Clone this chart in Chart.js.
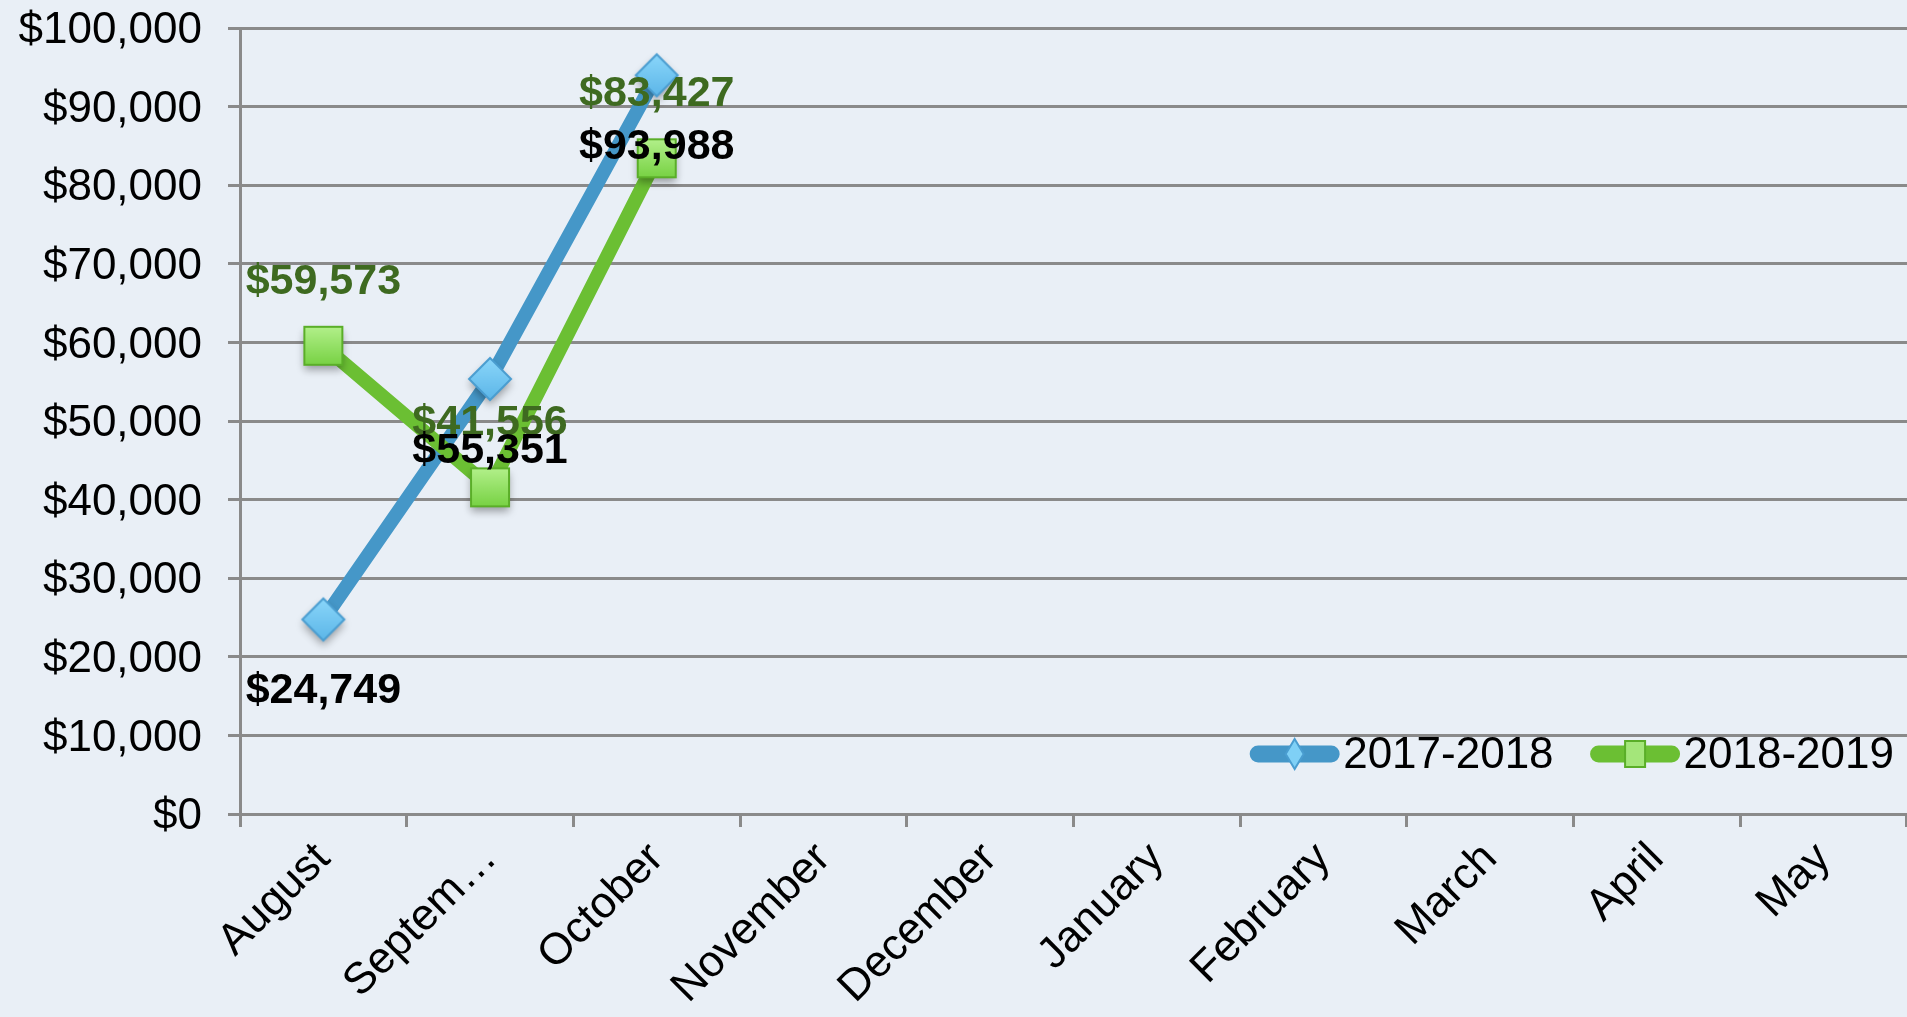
<!DOCTYPE html>
<html>
<head>
<meta charset="utf-8">
<title>Sales by month</title>
<script src="https://cdn.jsdelivr.net/npm/chart.js@4.4.1/dist/chart.umd.min.js"></script>
<style>
    html, body {
        margin: 0;
        padding: 0;
        overflow: hidden;
        background: #e9eff6;
    }
    .wrap {
        width: 1907px;
        height: 1017px;
    }
    canvas {
        display: block;
    }
</style>
</head>
<body>
<div class="wrap"><canvas id="salesChart"></canvas></div>
<script>
// data
const months = ["August", "Septem\u2026", "October", "November", "December", "January", "February", "March", "April", "May"];
const year1Label = "2017-2018";
const year1Values = [24749, 55351, 93988, null, null, null, null, null, null, null];
const year2Label = "2018-2019";
const year2Values = [59573, 41556, 83427, null, null, null, null, null, null, null];
const yMin = 0;
const yMax = 100000;
const yStep = 10000;

const gridColor = '#8a8a8a';
const fontName = '"Liberation Sans", Arial, sans-serif';

function money(v) {
    return '$' + Number(v).toLocaleString('en-US');
}

// marker images with a soft shadow (diamond or square)
function makeMarker(shape, half, top, bottom, edge) {
    const pad = 14;
    const size = half * 2 + pad * 2;
    const c = document.createElement('canvas');
    c.width = size;
    c.height = size;
    const g = c.getContext('2d');
    const m = size / 2;
    g.beginPath();
    if (shape === 'diamond') {
        g.moveTo(m, m - half);
        g.lineTo(m + half, m);
        g.lineTo(m, m + half);
        g.lineTo(m - half, m);
        g.closePath();
    } else {
        g.rect(m - half, m - half, half * 2, half * 2);
    }
    const grad = g.createLinearGradient(0, m - half, 0, m + half);
    grad.addColorStop(0, top);
    grad.addColorStop(1, bottom);
    g.shadowColor = 'rgba(0,0,0,0.35)';
    g.shadowBlur = 8;
    g.shadowOffsetY = 5;
    g.fillStyle = grad;
    g.fill();
    g.shadowColor = 'transparent';
    g.strokeStyle = edge;
    g.lineWidth = 2;
    g.stroke();
    return c;
}

const blueMarker = makeMarker('diamond', 21, '#8ad6fa', '#5cb6e8', '#4a9dd0');
const greenMarker = makeMarker('square', 19, '#b2f08a', '#78d244', '#5aae28');

// value labels over / under points
const valueLabels = {
    id: 'valueLabels',
    afterDatasetsDraw(chart) {
        const ctx = chart.ctx;
        ctx.save();
        ctx.font = 'bold 43px ' + fontName;
        ctx.textAlign = 'center';
        ctx.textBaseline = 'middle';
        // green first, black on top
        [1, 0].forEach(i => {
            const ds = chart.data.datasets[i];
            const meta = chart.getDatasetMeta(i);
            meta.data.forEach((pt, j) => {
                const v = ds.data[j];
                if (v === null) return;
                ctx.fillStyle = ds.labelColor;
                ctx.fillText(money(v), pt.x, pt.y + ds.labelOffset);
            });
        });
        ctx.restore();
    }
};

// legend drawn inside the plot, bottom right
const innerLegend = {
    id: 'innerLegend',
    afterDraw(chart) {
        const ctx = chart.ctx;
        const area = chart.chartArea;
        const y = area.bottom - 60;
        ctx.save();
        ctx.font = '44px ' + fontName;
        ctx.textBaseline = 'middle';
        let x = area.right - 13;
        for (let i = chart.data.datasets.length - 1; i >= 0; i--) {
            const ds = chart.data.datasets[i];
            const tw = ctx.measureText(ds.label).width;
            x -= tw;
            ctx.fillStyle = '#000';
            ctx.fillText(ds.label, x, y + 2);
            const lineEnd = x - 4;
            const lineStart = lineEnd - 89;
            ctx.strokeStyle = ds.borderColor;
            ctx.lineWidth = 17;
            ctx.lineCap = 'round';
            ctx.beginPath();
            ctx.moveTo(lineStart + 8, y);
            ctx.lineTo(lineEnd - 8, y);
            ctx.stroke();
            const cx = (lineStart + lineEnd) / 2;
            ctx.fillStyle = ds.legendFill;
            ctx.strokeStyle = ds.legendEdge;
            ctx.lineWidth = 2;
            ctx.beginPath();
            if (i === 0) {
                ctx.moveTo(cx, y - 15);
                ctx.lineTo(cx + 9, y);
                ctx.lineTo(cx, y + 15);
                ctx.lineTo(cx - 9, y);
                ctx.closePath();
            } else {
                ctx.rect(cx - 10, y - 13, 20, 26);
            }
            ctx.fill();
            ctx.stroke();
            x = lineStart - 37;
        }
        ctx.restore();
    }
};

const ctx = document.getElementById('salesChart').getContext('2d');

new Chart(ctx, {
    type: 'line',
    data: {
        labels: months,
        datasets: [{
            label: year1Label,
            data: year1Values,
            borderColor: '#4597c8',
            borderWidth: 14,
            pointStyle: blueMarker,
            legendFill: '#7fd0f6',
            legendEdge: '#4a9dd0',
            labelColor: '#000000',
            labelOffset: 72,
            order: 1
        }, {
            label: year2Label,
            data: year2Values,
            borderColor: '#6bbf33',
            borderWidth: 14,
            pointStyle: greenMarker,
            legendFill: '#a4e67a',
            legendEdge: '#5aae28',
            labelColor: '#3e6a20',
            labelOffset: -64,
            order: 0
        }]
    },
    options: {
        responsive: true,
        maintainAspectRatio: false,
        animation: false,
        layout: {
            autoPadding: false,
            padding: { left: 0, top: 28, right: 0, bottom: 0 }
        },
        plugins: {
            legend: { display: false },
            tooltip: { enabled: false }
        },
        scales: {
            x: {
                offset: true,
                grid: {
                    offset: true,
                    drawOnChartArea: false,
                    color: gridColor,
                    lineWidth: 3,
                    tickLength: 13
                },
                border: { display: false },
                ticks: {
                    color: '#000',
                    font: { family: fontName, size: 44 },
                    minRotation: 45,
                    maxRotation: 45,
                    padding: 6
                },
                afterFit: s => {
                    s.height = 203;
                    s.paddingLeft = 0;
                    s.paddingRight = 0;
                }
            },
            y: {
                min: yMin,
                max: yMax,
                grid: {
                    color: gridColor,
                    lineWidth: 3,
                    tickLength: 12
                },
                border: { color: gridColor, width: 3 },
                ticks: {
                    stepSize: yStep,
                    color: '#000',
                    font: { family: fontName, size: 44 },
                    padding: 26,
                    labelOffset: 3,
                    callback: v => money(v)
                },
                afterFit: s => {
                    s.width = 240;
                    s.paddingTop = 0;
                    s.paddingBottom = 0;
                }
            }
        }
    },
    plugins: [valueLabels, innerLegend]
});
</script>
</body>
</html>
